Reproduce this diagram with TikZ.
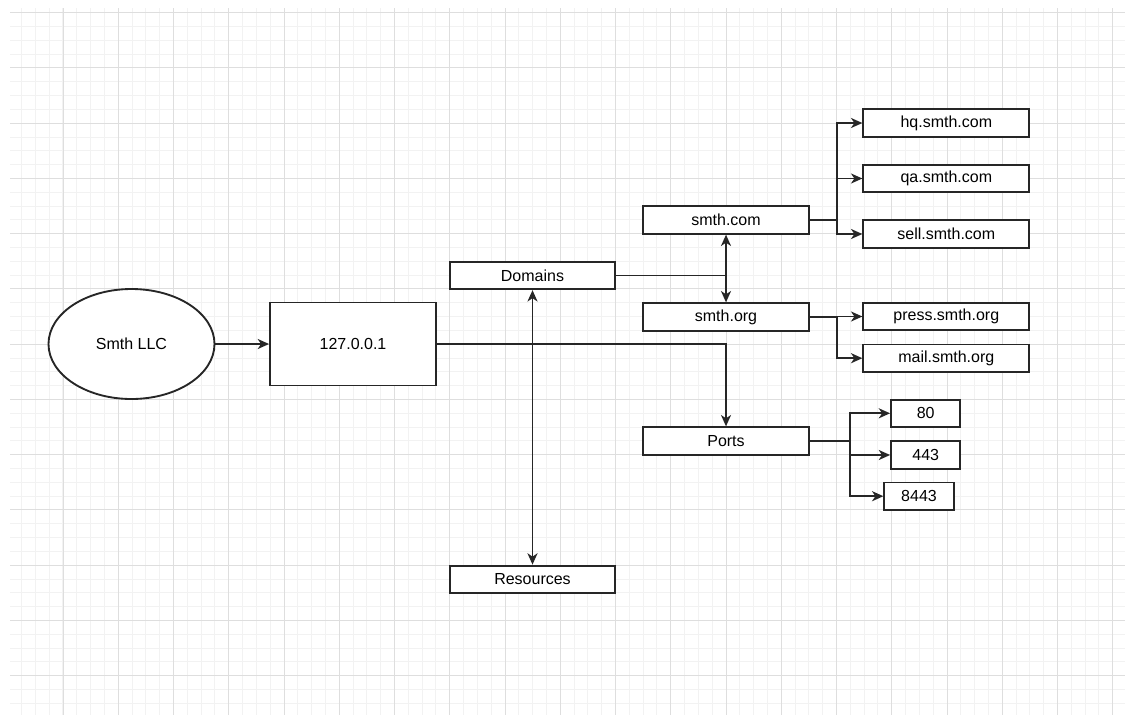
\documentclass[tikz,border=0pt]{standalone}
\usepackage{fontspec}
\setmainfont{Liberation Sans}
\usetikzlibrary{arrows.meta,shapes.geometric}
\begin{document}
\begin{tikzpicture}[x=0.75pt,y=-0.75pt,
  font=\fontsize{12pt}{14pt}\selectfont,
  box/.style={draw=black!85,line width=1.4pt,fill=white,rectangle,inner sep=0pt,minimum width=124.5pt,minimum height=20.6pt},
  pbox/.style={box,minimum width=52pt},
  arr/.style={draw=black!85,line width=1.4pt,-{Stealth[length=8.5pt,width=7.5pt,inset=2.5pt]}},
  minorg/.style={draw=black!5,line width=0.75pt},
  majorg/.style={draw=black!13,line width=0.75pt}]
\useasboundingbox (0,0) rectangle (1125,715);
\fill[white] (0,0) rectangle (1125,715);
% grid
\foreach \k in {0,...,80} {
  \pgfmathsetmacro{\gx}{21.56+13.8125*\k}
  \ifdim \gx pt<1125pt \draw[minorg] (\gx,8) -- (\gx,715); \fi
}
\foreach \k in {0,...,51} {
  \pgfmathsetmacro{\gy}{12.7+13.8125*\k}
  \ifdim \gy pt<715pt \draw[minorg] (10,\gy) -- (1125,\gy); \fi
}
\foreach \k in {0,...,19} {
  \pgfmathsetmacro{\gx}{63+55.25*\k}
  \draw[majorg] (\gx,8) -- (\gx,715);
}
\foreach \k in {0,...,12} {
  \pgfmathsetmacro{\gy}{12.7+55.25*\k}
  \draw[majorg] (10,\gy) -- (1125,\gy);
}
% nodes
\node[draw=black!85,line width=1.4pt,fill=white,ellipse,inner sep=0pt,minimum width=124.5pt,minimum height=82.5pt] (llc) at (131.5,344) {Smth LLC};
\node[box,minimum height=62.25pt] (ip) at (353,344) {127.0.0.1};
\node[box,minimum width=123.75pt] (dom) at (532.5,275.5) {Domains};
\node[box,minimum width=123.75pt] (res) at (532.5,579.3) {Resources};
\node[box] (com) at (726,220) {smth.com};
\node[box] (org) at (726,317) {smth.org};
\node[box] (ports) at (726,441) {Ports};
\node[box] (hq) at (946.3,123) {hq.smth.com};
\node[box] (qa) at (946.3,178.5) {qa.smth.com};
\node[box] (sell) at (946.3,234) {sell.smth.com};
\node[box] (press) at (946.3,316.5) {press.smth.org};
\node[box] (mail) at (946.3,358.2) {mail.smth.org};
\node[pbox] (p80) at (925.7,413.3) {80};
\node[pbox] (p443) at (925.7,455) {443};
\node[pbox] (p8443) at (919,496.2) {8443};
% connectors
\draw[arr] (llc.east) -- (ip.west);
\draw[arr] (ip.east) -| (dom.south);
\draw[arr] (ip.east) -| (res.north);
\draw[arr] (ip.east) -| (ports.north);
\draw[arr] (dom.east) -| (com.south);
\draw[arr] (dom.east) -| (org.north);
\coordinate (cb) at ([xshift=20.25pt]com.east);
\draw[arr] (com.east) -- (cb) |- (hq.west);
\draw[arr] (cb) |- (qa.west);
\draw[arr] (cb) |- (sell.west);
\coordinate (ob) at ([xshift=20.25pt]org.east);
\draw[arr] (org.east) -- (ob) |- (press.west);
\draw[arr] (ob) |- (mail.west);
\coordinate (pb) at ([xshift=30.2pt]ports.east);
\draw[arr] (ports.east) -- (pb) |- (p80.west);
\draw[arr] (pb) |- (p443.west);
\draw[arr] (pb) |- (p8443.west);
\end{tikzpicture}
\end{document}
